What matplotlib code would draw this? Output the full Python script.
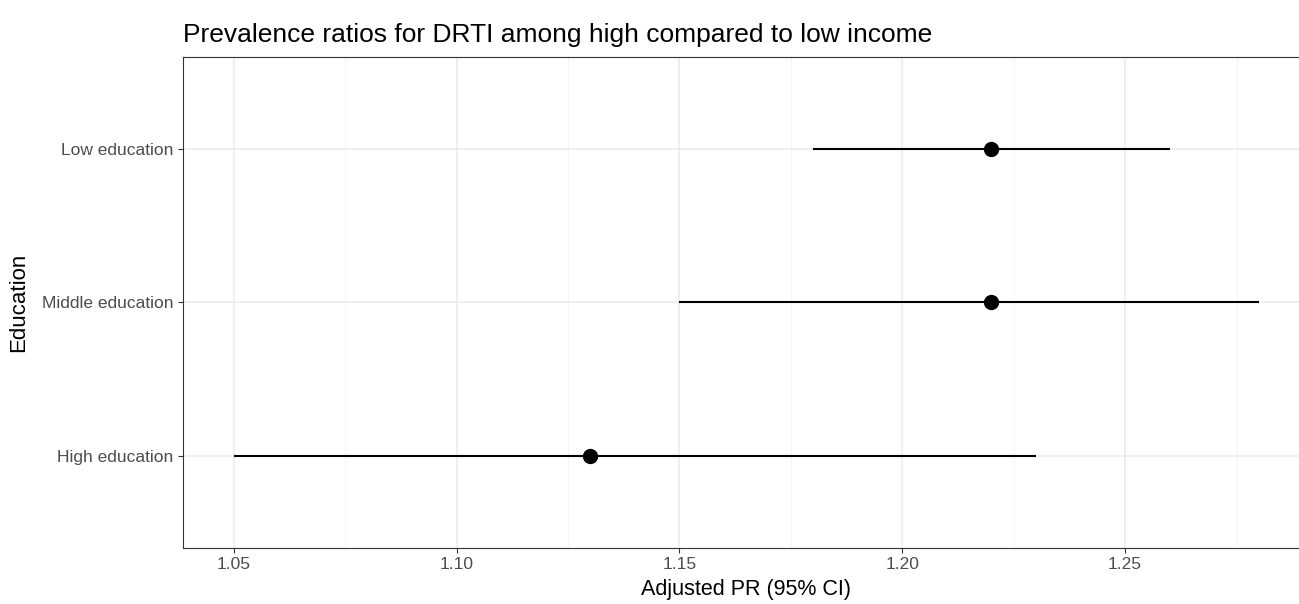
import numpy as np
import matplotlib
matplotlib.use('Agg')
import matplotlib.pyplot as plt
from matplotlib.ticker import MultipleLocator

plt.rcParams['font.family'] = ['Liberation Sans', 'DejaVu Sans']

# data
categories = ['High education', 'Middle education', 'Low education']
pr_est = [1.13, 1.22, 1.22]
ci_low = [1.05, 1.15, 1.18]
ci_high = [1.23, 1.28, 1.26]

title = 'Prevalence ratios for DRTI among high compared to low income'
xlabel = 'Adjusted PR (95% CI)'
ylabel = 'Education'

fig = plt.figure(figsize=(12.99, 6.04), dpi=100)
# panel runs a bit past the right edge, as in the reference
ax = fig.add_axes([0.1405, 0.0927, 0.868, 0.813])

ypos = np.arange(1, len(categories) + 1)

# ggplot-like expansion
lo, hi = min(ci_low), max(ci_high)
pad = 0.05 * (hi - lo)
ax.set_xlim(lo - pad, hi + pad)
ax.set_ylim(0.4, len(categories) + 0.6)

ax.hlines(ypos, ci_low, ci_high, color='black', lw=1.5, zorder=3)
ax.plot(pr_est, ypos, 'o', color='black', markersize=10, zorder=4)

ax.xaxis.set_major_locator(MultipleLocator(0.05))
ax.xaxis.set_minor_locator(MultipleLocator(0.025))
ax.set_yticks(ypos)
ax.set_yticklabels(categories)
ax.xaxis.set_major_formatter(plt.FormatStrFormatter('%.2f'))

ax.grid(which='major', color='#EBEBEB', lw=1.1, zorder=0)
ax.grid(which='minor', axis='x', color='#F2F2F2', lw=0.6, zorder=0)
ax.set_axisbelow(True)

for s in ax.spines.values():
    s.set_color('#333333')
    s.set_linewidth(0.8)

ax.tick_params(which='major', length=3.5, width=0.8, color='#333333',
               labelcolor='#4D4D4D', labelsize=12.5, pad=3)
ax.tick_params(which='minor', length=0)

ax.set_xlabel(xlabel, fontsize=15.5, color='black', labelpad=5)
ax.set_ylabel(ylabel, fontsize=16, color='black', labelpad=9)
ax.set_title(title, fontsize=19, loc='left', pad=11)

fig.savefig('out.png', dpi=100)
